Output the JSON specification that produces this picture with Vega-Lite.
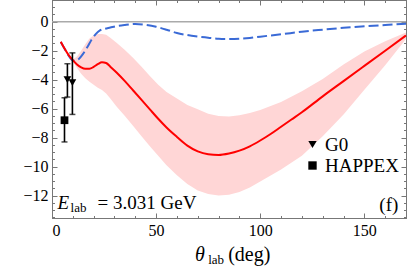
{
  "$schema": "https://vega.github.io/schema/vega-lite/v6.json",
  "width": 354,
  "height": 218,
  "autosize": {"type": "none"},
  "padding": {"left": 52, "top": 0, "right": 1, "bottom": 54},
  "background": "white",
  "config": {
    "view": {"stroke": "#777", "strokeWidth": 1},
    "font": "Liberation Serif",
    "axis": {"grid": false, "domainColor": "#777", "tickColor": "#777", "labelColor": "black", "labelFont": "Liberation Serif", "labelFontSize": 16, "domainWidth": 1, "tickWidth": 1, "labelOverlap": false, "labelBound": false},
    "legend": {"orient": "none", "legendX": 251, "legendY": 135, "labelFont": "Liberation Serif", "labelFontSize": 19, "labelColor": "black", "padding": 0, "rowPadding": 1, "labelOffset": 3, "symbolSize": 70, "symbolStrokeWidth": 0}
  },
  "datasets": {
    "band": [
      {"x": 10, "lo": -2.75, "hi": -2.6},
      {"x": 12, "lo": -3.2, "hi": -2.4},
      {"x": 14, "lo": -3.6, "hi": -2.0},
      {"x": 16, "lo": -3.9, "hi": -1.55},
      {"x": 18, "lo": -4.15, "hi": -1.15},
      {"x": 20, "lo": -4.35, "hi": -0.95},
      {"x": 22, "lo": -4.55, "hi": -0.85},
      {"x": 24, "lo": -4.72, "hi": -0.85},
      {"x": 26, "lo": -4.95, "hi": -0.9},
      {"x": 28, "lo": -5.3, "hi": -1.1},
      {"x": 31, "lo": -5.86, "hi": -1.45},
      {"x": 35, "lo": -6.5, "hi": -1.95},
      {"x": 39, "lo": -7.2, "hi": -2.5},
      {"x": 43, "lo": -7.9, "hi": -3.1},
      {"x": 47, "lo": -8.6, "hi": -3.75},
      {"x": 51, "lo": -9.25, "hi": -4.35},
      {"x": 55, "lo": -9.9, "hi": -4.85},
      {"x": 60, "lo": -10.6, "hi": -5.3},
      {"x": 65, "lo": -11.2, "hi": -5.75},
      {"x": 70, "lo": -11.65, "hi": -6.05},
      {"x": 75, "lo": -11.9, "hi": -6.35},
      {"x": 80, "lo": -12.0, "hi": -6.5},
      {"x": 85, "lo": -11.95, "hi": -6.55},
      {"x": 90, "lo": -11.75, "hi": -6.45},
      {"x": 95, "lo": -11.45, "hi": -6.3},
      {"x": 100, "lo": -11.03, "hi": -6.09},
      {"x": 110, "lo": -10.2, "hi": -5.55},
      {"x": 120, "lo": -9.25, "hi": -4.8},
      {"x": 130, "lo": -7.9, "hi": -3.95},
      {"x": 140, "lo": -6.4, "hi": -2.95},
      {"x": 150, "lo": -4.7, "hi": -2.05},
      {"x": 160, "lo": -3.0, "hi": -1.35},
      {"x": 170, "lo": -1.2, "hi": -0.75}
    ],
    "red": [
      {"x": 4.2, "y": -1.38}, {"x": 6, "y": -1.85}, {"x": 8, "y": -2.3}, {"x": 10, "y": -2.65},
      {"x": 12, "y": -2.95}, {"x": 14, "y": -3.15}, {"x": 16, "y": -3.25}, {"x": 18, "y": -3.25},
      {"x": 20, "y": -3.12}, {"x": 22, "y": -2.93}, {"x": 24, "y": -2.8}, {"x": 26, "y": -2.85},
      {"x": 28, "y": -3.1}, {"x": 31, "y": -3.5}, {"x": 35, "y": -4.1}, {"x": 39, "y": -4.75},
      {"x": 43, "y": -5.4}, {"x": 47, "y": -6.05}, {"x": 51, "y": -6.7}, {"x": 55, "y": -7.3},
      {"x": 60, "y": -7.95}, {"x": 65, "y": -8.55}, {"x": 70, "y": -8.95}, {"x": 75, "y": -9.15},
      {"x": 80, "y": -9.2}, {"x": 85, "y": -9.1}, {"x": 90, "y": -8.9}, {"x": 95, "y": -8.6},
      {"x": 100, "y": -8.2}, {"x": 105, "y": -7.75}, {"x": 110, "y": -7.25}, {"x": 115, "y": -6.75},
      {"x": 120, "y": -6.25}, {"x": 130, "y": -5.15}, {"x": 140, "y": -4.1}, {"x": 150, "y": -3.05},
      {"x": 160, "y": -2.0}, {"x": 170, "y": -0.95}
    ],
    "blue": [
      {"x": 4.2, "y": -1.4}, {"x": 6, "y": -1.85}, {"x": 8, "y": -2.35}, {"x": 10, "y": -2.68},
      {"x": 11, "y": -2.7}, {"x": 13, "y": -2.55}, {"x": 15, "y": -2.2}, {"x": 17, "y": -1.75},
      {"x": 19, "y": -1.25}, {"x": 21, "y": -0.85}, {"x": 23, "y": -0.6}, {"x": 25, "y": -0.5},
      {"x": 28, "y": -0.4}, {"x": 31, "y": -0.3}, {"x": 35, "y": -0.22}, {"x": 40, "y": -0.16},
      {"x": 45, "y": -0.22}, {"x": 50, "y": -0.35}, {"x": 55, "y": -0.55}, {"x": 60, "y": -0.78},
      {"x": 65, "y": -0.92}, {"x": 70, "y": -1.02}, {"x": 75, "y": -1.1}, {"x": 80, "y": -1.18},
      {"x": 85, "y": -1.2}, {"x": 90, "y": -1.18}, {"x": 95, "y": -1.12}, {"x": 100, "y": -1.03},
      {"x": 110, "y": -0.87}, {"x": 120, "y": -0.69}, {"x": 130, "y": -0.55}, {"x": 140, "y": -0.42},
      {"x": 150, "y": -0.32}, {"x": 160, "y": -0.23}, {"x": 170, "y": -0.14}
    ],
    "exp": [
      {"exp": "HAPPEX", "x": 6.0, "y": -6.8, "lo": -8.3, "hi": -5.25},
      {"exp": "G0", "x": 7.4, "y": -4.0, "lo": -5.2, "hi": -2.9},
      {"exp": "G0", "x": 9.8, "y": -4.2, "lo": -6.4, "hi": -2.15}
    ],
    "one": [{}]
  },
  "resolve": {"axis": {"x": "independent", "y": "independent"}},
  "layer": [
    {
      "data": {"name": "band"},
      "mark": {"type": "area", "color": "#ffd6d6", "opacity": 1},
      "encoding": {
        "x": {"field": "x", "type": "quantitative", "scale": {"domain": [0, 170], "nice": false, "zero": false},
          "axis": {"orient": "bottom", "title": null, "values": [0,10,20,30,40,50,60,70,80,90,100,110,120,130,140,150,160,170],
            "labelExpr": "datum.value % 50 === 0 ? format(datum.value, 'd') : ''",
            "tickSize": {"condition": {"test": "datum.value % 50 === 0", "value": -5}, "value": -2.5},
            "labelPadding": 9}},
        "y": {"field": "lo", "type": "quantitative", "scale": {"domain": [-13.55, 1.5], "nice": false, "zero": false},
          "axis": {"orient": "left", "title": null,
            "values": [-13.5,-13,-12.5,-12,-11.5,-11,-10.5,-10,-9.5,-9,-8.5,-8,-7.5,-7,-6.5,-6,-5.5,-5,-4.5,-4,-3.5,-3,-2.5,-2,-1.5,-1,-0.5,0,0.5,1,1.5],
            "labelExpr": "datum.value % 2 === 0 ? format(datum.value, 'd') : ''",
            "tickSize": {"condition": {"test": "datum.value % 2 === 0", "value": -5}, "value": -2.5},
            "labelPadding": 9}},
        "y2": {"field": "hi"}
      }
    },
    {
      "data": {"name": "one"},
      "mark": {"type": "rule", "color": "#aaaaaa", "strokeWidth": 1.5},
      "encoding": {
        "y": {"datum": 0, "type": "quantitative", "scale": {"domain": [-13.55, 1.5], "nice": false, "zero": false}, "axis": null}
      }
    },
    {
      "data": {"name": "blue"},
      "mark": {"type": "line", "color": "#3a6ad6", "strokeWidth": 2, "strokeDash": [10, 4], "interpolate": "monotone"},
      "encoding": {
        "x": {"field": "x", "type": "quantitative", "scale": {"domain": [0, 170], "nice": false, "zero": false}, "axis": null},
        "y": {"field": "y", "type": "quantitative", "scale": {"domain": [-13.55, 1.5], "nice": false, "zero": false}, "axis": null}
      }
    },
    {
      "data": {"name": "red"},
      "mark": {"type": "line", "color": "#ff0000", "strokeWidth": 2, "interpolate": "monotone"},
      "encoding": {
        "x": {"field": "x", "type": "quantitative", "scale": {"domain": [0, 170], "nice": false, "zero": false},
          "axis": {"orient": "top", "title": null, "labels": false, "values": [0,10,20,30,40,50,60,70,80,90,100,110,120,130,140,150,160,170],
            "tickSize": {"condition": {"test": "datum.value % 50 === 0", "value": -5}, "value": -2.5}}},
        "y": {"field": "y", "type": "quantitative", "scale": {"domain": [-13.55, 1.5], "nice": false, "zero": false},
          "axis": {"orient": "right", "title": null, "labels": false,
            "values": [-13.5,-13,-12.5,-12,-11.5,-11,-10.5,-10,-9.5,-9,-8.5,-8,-7.5,-7,-6.5,-6,-5.5,-5,-4.5,-4,-3.5,-3,-2.5,-2,-1.5,-1,-0.5,0,0.5,1,1.5],
            "tickSize": {"condition": {"test": "datum.value % 2 === 0", "value": -5}, "value": -2.5}}}
      }
    },
    {
      "data": {"name": "exp"},
      "mark": {"type": "rule", "color": "black", "strokeWidth": 1.6},
      "encoding": {
        "x": {"field": "x", "type": "quantitative", "scale": {"domain": [0, 170], "nice": false, "zero": false}, "axis": null},
        "y": {"field": "lo", "type": "quantitative", "scale": {"domain": [-13.55, 1.5], "nice": false, "zero": false}, "axis": null},
        "y2": {"field": "hi"}
      }
    },
    {
      "data": {"name": "exp"},
      "mark": {"type": "tick", "color": "black", "orient": "horizontal", "size": 6, "thickness": 1.5},
      "encoding": {
        "x": {"field": "x", "type": "quantitative", "scale": {"domain": [0, 170], "nice": false, "zero": false}, "axis": null},
        "y": {"field": "lo", "type": "quantitative", "scale": {"domain": [-13.55, 1.5], "nice": false, "zero": false}, "axis": null}
      }
    },
    {
      "data": {"name": "exp"},
      "mark": {"type": "tick", "color": "black", "orient": "horizontal", "size": 6, "thickness": 1.5},
      "encoding": {
        "x": {"field": "x", "type": "quantitative", "scale": {"domain": [0, 170], "nice": false, "zero": false}, "axis": null},
        "y": {"field": "hi", "type": "quantitative", "scale": {"domain": [-13.55, 1.5], "nice": false, "zero": false}, "axis": null}
      }
    },
    {
      "data": {"name": "exp"},
      "mark": {"type": "point", "filled": true, "color": "black", "opacity": 1, "size": 60},
      "encoding": {
        "x": {"field": "x", "type": "quantitative", "scale": {"domain": [0, 170], "nice": false, "zero": false}, "axis": null},
        "y": {"field": "y", "type": "quantitative", "scale": {"domain": [-13.55, 1.5], "nice": false, "zero": false}, "axis": null},
        "shape": {"field": "exp", "type": "nominal", "scale": {"domain": ["G0", "HAPPEX"], "range": ["triangle-down", "square"]}, "legend": {"title": null}}
      }
    },
    {
      "data": {"name": "one"},
      "mark": {"type": "text", "font": "Liberation Serif", "fontSize": 19, "fontStyle": "italic", "align": "left", "baseline": "alphabetic", "color": "black"},
      "encoding": {
        "x": {"datum": 2.7, "type": "quantitative", "scale": {"domain": [0, 170], "nice": false, "zero": false}, "axis": null},
        "y": {"datum": -12.94, "type": "quantitative", "scale": {"domain": [-13.55, 1.5], "nice": false, "zero": false}, "axis": null},
        "text": {"value": "E"}
      }
    },
    {
      "data": {"name": "one"},
      "mark": {"type": "text", "font": "Liberation Serif", "fontSize": 13, "align": "left", "baseline": "alphabetic", "color": "black"},
      "encoding": {
        "x": {"datum": 8.9, "type": "quantitative", "scale": {"domain": [0, 170], "nice": false, "zero": false}, "axis": null},
        "y": {"datum": -13.12, "type": "quantitative", "scale": {"domain": [-13.55, 1.5], "nice": false, "zero": false}, "axis": null},
        "text": {"value": "lab"}
      }
    },
    {
      "data": {"name": "one"},
      "mark": {"type": "text", "font": "Liberation Serif", "fontSize": 19, "align": "left", "baseline": "alphabetic", "color": "black"},
      "encoding": {
        "x": {"datum": 21.9, "type": "quantitative", "scale": {"domain": [0, 170], "nice": false, "zero": false}, "axis": null},
        "y": {"datum": -12.94, "type": "quantitative", "scale": {"domain": [-13.55, 1.5], "nice": false, "zero": false}, "axis": null},
        "text": {"value": "= 3.031 GeV"}
      }
    },
    {
      "data": {"name": "one"},
      "mark": {"type": "text", "font": "Liberation Serif", "fontSize": 19, "align": "right", "baseline": "alphabetic", "color": "black"},
      "encoding": {
        "x": {"datum": 166.3, "type": "quantitative", "scale": {"domain": [0, 170], "nice": false, "zero": false}, "axis": null},
        "y": {"datum": -13.1, "type": "quantitative", "scale": {"domain": [-13.55, 1.5], "nice": false, "zero": false}, "axis": null},
        "text": {"value": "(f)"}
      }
    },
    {
      "data": {"name": "one"},
      "mark": {"type": "text", "font": "Liberation Serif", "fontSize": 20, "fontStyle": "italic", "align": "left", "baseline": "alphabetic", "color": "black"},
      "encoding": {
        "x": {"datum": 68.7, "type": "quantitative", "scale": {"domain": [0, 170], "nice": false, "zero": false}, "axis": null},
        "y": {"datum": -16.55, "type": "quantitative", "scale": {"domain": [-13.55, 1.5], "nice": false, "zero": false}, "axis": null},
        "text": {"value": "θ"}
      }
    },
    {
      "data": {"name": "one"},
      "mark": {"type": "text", "font": "Liberation Serif", "fontSize": 13, "align": "left", "baseline": "alphabetic", "color": "black"},
      "encoding": {
        "x": {"datum": 75.0, "type": "quantitative", "scale": {"domain": [0, 170], "nice": false, "zero": false}, "axis": null},
        "y": {"datum": -16.75, "type": "quantitative", "scale": {"domain": [-13.55, 1.5], "nice": false, "zero": false}, "axis": null},
        "text": {"value": "lab"}
      }
    },
    {
      "data": {"name": "one"},
      "mark": {"type": "text", "font": "Liberation Serif", "fontSize": 20, "align": "left", "baseline": "alphabetic", "color": "black"},
      "encoding": {
        "x": {"datum": 84.6, "type": "quantitative", "scale": {"domain": [0, 170], "nice": false, "zero": false}, "axis": null},
        "y": {"datum": -16.55, "type": "quantitative", "scale": {"domain": [-13.55, 1.5], "nice": false, "zero": false}, "axis": null},
        "text": {"value": "(deg)"}
      }
    }
  ]
}
